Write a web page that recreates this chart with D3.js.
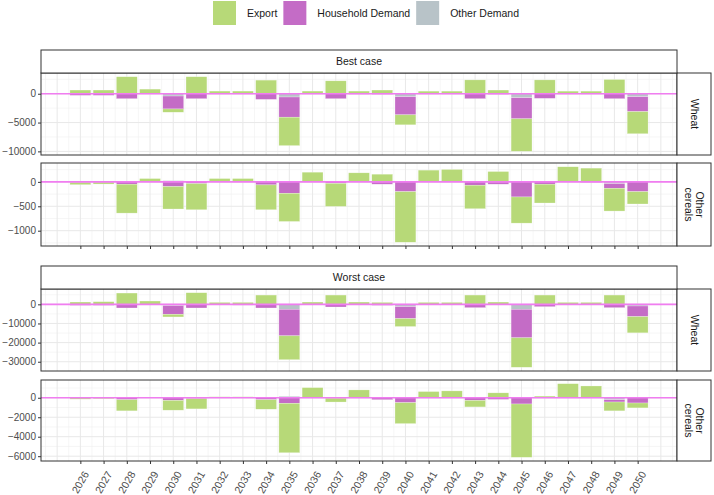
<!DOCTYPE html>
<html>
<head>
<meta charset="utf-8">
<script src="https://cdn.jsdelivr.net/npm/d3@7"></script>
<style>
  body { margin: 0; background: #fff; }
  text { font-family: "Liberation Sans", Arial, sans-serif; }
</style>
</head>
<body>
<svg id="chart" width="714" height="495"></svg>
<script>
  var years = [2026, 2027, 2028, 2029, 2030, 2031, 2032, 2033, 2034, 2035, 2036, 2037, 2038,
               2039, 2040, 2041, 2042, 2043, 2044, 2045, 2046, 2047, 2048, 2049, 2050];

  var seriesNames = ["Export", "Household Demand", "Other Demand"];
  var seriesColors = ["#b7d978", "#c46cc6", "#b8c3c8"];

  // Best case - Wheat
  var bestWheatExport = [640, 640, 2950, 800, -570, 2950, 460, 460, 2360, -4930, 460, 2240, 460,
                         640, -1730, 450, 450, 2400, 640, -5630, 2400, 450, 450, 2470, -3840];
  var bestWheatHousehold = [-280, -280, -860, -50, -2240, -860, -60, -60, -980, -3500, -60, -860, -80,
                            -100, -3140, -60, -60, -860, -100, -3660, -800, -60, -60, -860, -2580];
  var bestWheatOther = [0, 0, 0, 0, -400, 0, 0, 0, 0, -570, 0, 0, 0,
                        0, -520, 0, 0, 0, 0, -690, 0, 0, 0, 0, -520];

  // Best case - Other cereals
  var bestCerealExport = [-50, -40, -592, 68, -460, -536, 68, 68, -509, -577, 198, -472, 185,
                          157, -1036, 240, 254, -481, 212, -536, -385, 309, 281, -466, -253];
  var bestCerealHousehold = [-8, -5, -48, 0, -96, -35, 0, 0, -62, -234, 0, -30, 0,
                             -48, -200, 0, 0, -69, -48, -309, -48, 0, -10, -97, -200];
  var bestCerealOther = [0, 0, 0, 0, 25, 0, 0, 0, 0, 0, 0, 0, 0,
                         0, 0, 0, 0, 0, 0, 0, 0, 0, 0, -35, 0];

  // Worst case - Wheat
  var worstWheatExport = [1210, 1390, 5900, 1730, -1390, 6070, 1040, 1040, 4850, -12480, 1200, 4850, 1200,
                          1040, -4150, 1040, 1040, 4850, 1200, -15400, 4850, 1040, 1040, 4850, -8500];
  var worstWheatHousehold = [-500, -500, -1900, -100, -4500, -1900, -150, -400, -1900, -13860, -150, -1390, -150,
                             -500, -6250, -150, -150, -1730, -150, -14900, -1210, -150, -150, -1730, -5530];
  var worstWheatOther = [0, 0, 0, 0, -700, 0, 0, 0, 0, -2600, 0, 0, 0,
                         0, -1200, 0, 0, 0, 0, -2600, 0, 0, 0, 0, -870];

  // Worst case - Other cereals
  var worstCerealExport = [-134, -100, -1144, 20, -1007, -1042, 100, 100, -976, -5074, 1040, -400, 806,
                           0, -2150, 638, 705, -670, 504, -5475, 168, 1445, 1210, -907, -502];
  var worstCerealHousehold = [-10, -5, -200, 0, -270, -100, 0, 0, -200, -571, 0, -40, 0,
                              -200, -504, 0, 0, -270, -170, -640, -20, 0, 0, -237, -538];
  var worstCerealOther = [0, 0, 0, 0, 0, 0, 0, 0, 0, 150, 0, 0, 0,
                          0, 0, 0, 0, 0, 0, 0, 0, 0, 0, -200, 0];

  var bestWheatTicks = [0, -5000, -10000];
  var bestCerealTicks = [0, -500, -1000];
  var worstWheatTicks = [0, -10000, -20000, -30000];
  var worstCerealTicks = [0, -2000, -4000, -6000];

  var caseLabels = ["Best case", "Worst case"];

  var panels = [
    {exp: bestWheatExport, hh: bestWheatHousehold, oth: bestWheatOther, ticks: bestWheatTicks,
     top: 73, bottom: 155, label: ["Wheat"]},
    {exp: bestCerealExport, hh: bestCerealHousehold, oth: bestCerealOther, ticks: bestCerealTicks,
     top: 163, bottom: 246, label: ["Other", "cereals"]},
    {exp: worstWheatExport, hh: worstWheatHousehold, oth: worstWheatOther, ticks: worstWheatTicks,
     top: 289, bottom: 371, label: ["Wheat"]},
    {exp: worstCerealExport, hh: worstCerealHousehold, oth: worstCerealOther, ticks: worstCerealTicks,
     top: 380, bottom: 461, label: ["Other", "cereals"]}
  ];

  var left = 41, right = 677, stripW = 34;
  var caseStrips = [{top: 50, bottom: 73}, {top: 266, bottom: 289}];

  var svg = d3.select("#chart");

  // x: continuous years, bar width 0.9, ggplot 5% expansion
  var barW = 0.9;
  var xlo = years[0] - barW / 2, xhi = years[years.length - 1] + barW / 2;
  var xpad = (xhi - xlo) * 0.05;
  var xScale = d3.scaleLinear().domain([xlo - xpad, xhi + xpad]).range([left, right]);

  var gridX = [];
  for (var g = Math.ceil((xlo - xpad) * 2) / 2; g <= xhi + xpad; g += 0.5) gridX.push(g);

  var stack = d3.stack()
      .keys(["oth", "hh", "exp"])
      .offset(d3.stackOffsetDiverging);

  var keyColor = {exp: seriesColors[0], hh: seriesColors[1], oth: seriesColors[2]};

  panels.forEach(function(p, pi) {
    var rows = years.map(function(y, i) {
      return {year: y, exp: p.exp[i], hh: p.hh[i], oth: p.oth[i]};
    });
    var layers = stack(rows);
    var lo = d3.min(layers, function(l) { return d3.min(l, function(d) { return d[0]; }); });
    var hi = d3.max(layers, function(l) { return d3.max(l, function(d) { return d[1]; }); });
    lo = Math.min(lo, 0); hi = Math.max(hi, 0);
    var pad = (hi - lo) * 0.05;
    var yScale = d3.scaleLinear().domain([lo - pad, hi + pad]).range([p.bottom, p.top]);

    var panel = svg.append("g");

    // grid
    var step = p.ticks[0] - p.ticks[1];
    var minor = [];
    for (var v = p.ticks[0] + step * 3; v >= lo - pad; v -= step / 2) {
      if (v <= hi + pad && p.ticks.indexOf(v) < 0) minor.push(v);
    }
    panel.selectAll(".hminor").data(minor).enter().append("line")
      .attr("x1", left).attr("x2", right)
      .attr("y1", function(d) { return yScale(d); }).attr("y2", function(d) { return yScale(d); })
      .attr("stroke", "#f0f0f0").attr("stroke-width", 0.6);
    panel.selectAll(".vgrid").data(gridX).enter().append("line")
      .attr("y1", p.top).attr("y2", p.bottom)
      .attr("x1", function(d) { return xScale(d); }).attr("x2", function(d) { return xScale(d); })
      .attr("stroke", function(d) { return d % 1 === 0 ? "#e8e8e8" : "#f0f0f0"; })
      .attr("stroke-width", function(d) { return d % 1 === 0 ? 1 : 0.6; });
    panel.selectAll(".hmajor").data(p.ticks).enter().append("line")
      .attr("x1", left).attr("x2", right)
      .attr("y1", function(d) { return yScale(d); }).attr("y2", function(d) { return yScale(d); })
      .attr("stroke", "#e8e8e8").attr("stroke-width", 1);

    // bars
    layers.forEach(function(layer) {
      panel.selectAll(null).data(layer).enter().append("rect")
        .attr("x", function(d) { return xScale(d.data.year - barW / 2); })
        .attr("width", xScale(barW) - xScale(0))
        .attr("y", function(d) { return yScale(Math.max(d[0], d[1])); })
        .attr("height", function(d) { return Math.abs(yScale(d[0]) - yScale(d[1])); })
        .attr("fill", keyColor[layer.key])
        .attr("stroke", "#ffffff").attr("stroke-opacity", 0.5).attr("stroke-width", 0.5);
    });

    // zero line
    panel.append("line")
      .attr("x1", left).attr("x2", right)
      .attr("y1", yScale(0)).attr("y2", yScale(0))
      .attr("stroke", "#f07df0").attr("stroke-width", 1.6);

    // border
    panel.append("rect")
      .attr("x", left).attr("y", p.top)
      .attr("width", right - left).attr("height", p.bottom - p.top)
      .attr("fill", "none").attr("stroke", "#333").attr("stroke-width", 1);

    // y axis
    var yAxis = panel.append("g")
      .attr("transform", "translate(" + left + ",0)")
      .call(d3.axisLeft(yScale).tickValues(p.ticks).tickSize(3).tickPadding(2).tickFormat(d3.format("d")));
    yAxis.select(".domain").remove();
    yAxis.selectAll("line").attr("stroke", "#333");
    yAxis.selectAll("text").attr("fill", "#4d4d4d").attr("font-size", "10px")
      .attr("font-family", "Liberation Sans, Arial, sans-serif");

    // x ticks under the lower panel of each case
    if (pi % 2 === 1) {
      var xAxis = panel.append("g")
        .attr("transform", "translate(0," + p.bottom + ")")
        .call(d3.axisBottom(xScale).tickValues(years).tickSize(3).tickFormat(""));
      xAxis.select(".domain").remove();
      xAxis.selectAll("line").attr("stroke", "#333");
    }

    // right strip
    panel.append("rect")
      .attr("x", right).attr("y", p.top)
      .attr("width", stripW).attr("height", p.bottom - p.top)
      .attr("fill", "#fff").attr("stroke", "#333").attr("stroke-width", 1);
    var cy = (p.top + p.bottom) / 2;
    var st = panel.append("text")
      .attr("transform", "translate(" + (right + stripW / 2) + "," + cy + ") rotate(90)")
      .attr("text-anchor", "middle")
      .attr("font-size", "10.5px").attr("fill", "#1a1a1a");
    var n = p.label.length;
    p.label.forEach(function(t, i) {
      st.append("tspan").attr("x", 0)
        .attr("y", (i - (n - 1) / 2) * 11 + 3.5)
        .text(t);
    });
  });

  // case strips on top
  caseStrips.forEach(function(s, i) {
    svg.append("rect")
      .attr("x", left).attr("y", s.top)
      .attr("width", right - left).attr("height", s.bottom - s.top)
      .attr("fill", "#fff").attr("stroke", "#333").attr("stroke-width", 1);
    svg.append("text")
      .attr("x", (left + right) / 2).attr("y", (s.top + s.bottom) / 2 + 3.5)
      .attr("text-anchor", "middle").attr("font-size", "10.5px").attr("fill", "#1a1a1a")
      .text(caseLabels[i]);
  });

  // x labels under the bottom panel
  var lastBottom = panels[3].bottom;
  svg.selectAll(".xlab").data(years).enter().append("text")
    .attr("transform", function(d) {
      return "translate(" + (xScale(d) + 9) + "," + (lastBottom + 13) + ") rotate(-60)";
    })
    .attr("text-anchor", "end")
    .attr("font-size", "10.5px").attr("fill", "#4d4d4d")
    .text(function(d) { return d; });

  // legend
  var legend = svg.append("g");
  var lx = 213;
  seriesNames.forEach(function(name, i) {
    legend.append("rect")
      .attr("x", lx).attr("y", 1).attr("width", 23).attr("height", 24)
      .attr("fill", seriesColors[i]);
    var t = legend.append("text")
      .attr("x", lx + 34).attr("y", 17)
      .attr("font-size", "10.5px").attr("fill", "#1a1a1a")
      .text(name);
    lx += 34 + t.node().getComputedTextLength() + 6;
  });
</script>
</body>
</html>
